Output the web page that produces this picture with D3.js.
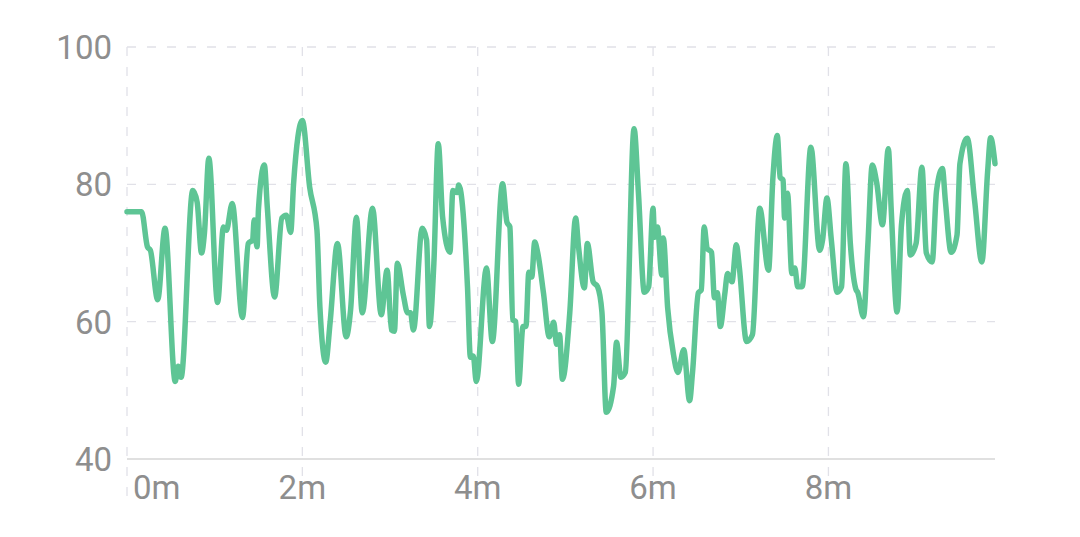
<!DOCTYPE html>
<html>
  <head>
    <meta charset="utf-8">
    <style>
      body { margin: 0; background: #fff; }
      svg text { font-family: Roboto, "Noto Sans", sans-serif; }
    </style>
  </head>
  <body>
    <div id="chart"></div>
    <script src="https://d3js.org/d3.v7.min.js"></script>
    <script>
    // seconds since start, and value at that moment
    var seconds = [0, 10, 14, 16, 21, 26, 33, 35, 37, 45, 48, 51, 53, 56, 62, 66, 68, 72, 79, 83, 86, 87, 89, 90,
      94, 96, 101, 106, 109, 112, 114, 120, 125, 130, 132, 136, 139, 144, 150, 153, 157, 161, 168, 174, 178, 181,
      183, 185, 189, 192, 194, 196, 202, 205, 207, 210, 213, 216, 221, 223, 226, 227, 233, 235, 237, 239, 246, 250,
      257, 260, 262, 264, 266, 268, 271, 273, 275, 277, 279, 281, 285, 289, 292, 294, 296, 298, 303, 307, 309, 313,
      315, 319, 322, 325, 328, 333, 335, 338, 341, 347, 350, 354, 357, 360, 361, 363, 366, 367, 370, 374, 377, 381,
      385, 387, 391, 393, 395, 397, 400, 402, 404, 406, 409, 411, 414, 417, 419, 424, 428, 433, 439, 442, 445, 447,
      449, 450, 452, 455, 457, 459, 462, 468, 474, 476, 479, 482, 486, 489, 492, 495, 499, 500, 504, 507, 510, 513,
      517, 521, 523, 527, 530, 534, 536, 540, 544, 547, 551, 554, 558, 560, 564, 568, 570, 575, 580, 585, 589, 591, 594];
    var values = [76, 76, 70.9, 70.4, 63.2, 73.6, 51.3, 53.5, 51.9, 79.1, 77.4, 70, 72.9, 83.8, 62.8, 73.8, 73.3, 77.2,
      60.6, 71.4, 71.9, 74.8, 70.9, 76.5, 82.8, 76.7, 63.6, 75.1, 75.5, 73, 80.1, 89.3, 79.6, 73.3, 62.2, 54.1, 59.9,
      71.4, 57.8, 61.7, 75.2, 61.3, 76.5, 61, 67.5, 58.8, 58.6, 68.5, 64, 61.3, 61.3, 58.8, 73.6, 71.9, 59.3, 68.5,
      85.9, 75.2, 70.1, 79.1, 78.8, 79.9, 65.1, 54.8, 55, 51.3, 67.8, 57.1, 80.1, 74.5, 73.8, 60.3, 60, 50.9, 59.3,
      59.3, 67.2, 66.5, 71.6, 70.1, 64.2, 57.8, 59.9, 56.7, 58.1, 51.6, 61.3, 75.1, 70.9, 64.9, 71.4, 65.8, 65.1,
      61.4, 46.8, 50.6, 57, 51.9, 52.6, 88.1, 78.7, 64.3, 65.1, 76.5, 72.3, 73.8, 66.8, 72.2, 62, 55.2, 52.6, 55.9,
      48.5, 52.6, 64.2, 64.6, 73.8, 70.7, 70.1, 63.5, 64.2, 59.3, 63.9, 67, 65.8, 71.2, 68, 57.1, 58.1, 76.5, 67.5,
      80.9, 87.1, 81, 80.6, 75.1, 78.7, 67, 67.8, 65.1, 65.1, 85.4, 70.4, 71.9, 78, 71.9, 64.3, 65.1, 83, 71.4, 64.6,
      64.3, 60.7, 71.2, 82.8, 80.3, 74.1, 85.2, 76.2, 61.4, 74.1, 79.1, 69.7, 71.4, 82.5, 70, 68.7, 79.1, 82.3, 77.7,
      70.1, 72.6, 83, 86.7, 77.7, 68.7, 82, 86.8, 83];
    var xTicks = [0, 120, 240, 360, 480];
    var yTicks = [40, 60, 80, 100];

    var width = 1080, height = 537;
    var margin = {top: 47, right: 85, bottom: 78, left: 127};

    var svg = d3.select("#chart").append("svg")
        .attr("width", width)
        .attr("height", height);

    var x = d3.scaleLinear()
        .domain([0, 594])
        .range([margin.left, width - margin.right]);

    var y = d3.scaleLinear()
        .domain([40, 100])
        .range([height - margin.bottom, margin.top]);

    var gridColor = "#e1e1e8";
    var labelColor = "#8e8e8e";

    // horizontal grid
    svg.append("g")
      .selectAll("line")
      .data(yTicks.slice(1))
      .enter().append("line")
        .attr("x1", x.range()[0])
        .attr("x2", x.range()[1])
        .attr("y1", function(d) { return y(d); })
        .attr("y2", function(d) { return y(d); })
        .attr("stroke", gridColor)
        .attr("stroke-width", 1.3)
        .attr("stroke-dasharray", "9,11");

    // vertical grid, running down past the axis through the labels
    svg.append("g")
      .selectAll("line")
      .data(xTicks)
      .enter().append("line")
        .attr("x1", function(d) { return x(d); })
        .attr("x2", function(d) { return x(d); })
        .attr("y1", margin.top)
        .attr("y2", y(40) + 42)
        .attr("stroke", gridColor)
        .attr("stroke-width", 1.3)
        .attr("stroke-dasharray", "9,11");

    // x axis line
    svg.append("line")
        .attr("x1", x.range()[0])
        .attr("x2", x.range()[1])
        .attr("y1", y(40))
        .attr("y2", y(40))
        .attr("stroke", "#d6d6d6")
        .attr("stroke-width", 1.5);

    // y labels
    svg.append("g")
      .selectAll("text")
      .data(yTicks)
      .enter().append("text")
        .attr("x", margin.left - 15)
        .attr("y", function(d) { return y(d); })
        .attr("dy", "0.36em")
        .attr("text-anchor", "end")
        .attr("fill", labelColor)
        .style("font-size", "33px")
        .text(function(d) { return d; });

    // x labels: centred on the tick, the first one kept inside the plot
    svg.append("g")
      .selectAll("text")
      .data(xTicks)
      .enter().append("text")
        .attr("x", function(d, i) { return i == 0 ? x(d) + 6 : x(d); })
        .attr("y", y(40) + 40)
        .attr("text-anchor", function(d, i) { return i == 0 ? "start" : "middle"; })
        .attr("fill", labelColor)
        .style("font-size", "33px")
        .text(function(d) { return (d / 60) + "m"; });

    var pts = seconds.map(function(s, i) { return [s, values[i]]; });

    svg.append("path")
        .datum(pts)
        .attr("fill", "none")
        .attr("stroke", "#5ec595")
        .attr("stroke-width", 5.5)
        .attr("stroke-linejoin", "round")
        .attr("stroke-linecap", "round")
        .attr("d", d3.line()
            .x(function(d) { return x(d[0]); })
            .y(function(d) { return y(d[1]); })
            .curve(d3.curveMonotoneX));
    </script>
  </body>
</html>
